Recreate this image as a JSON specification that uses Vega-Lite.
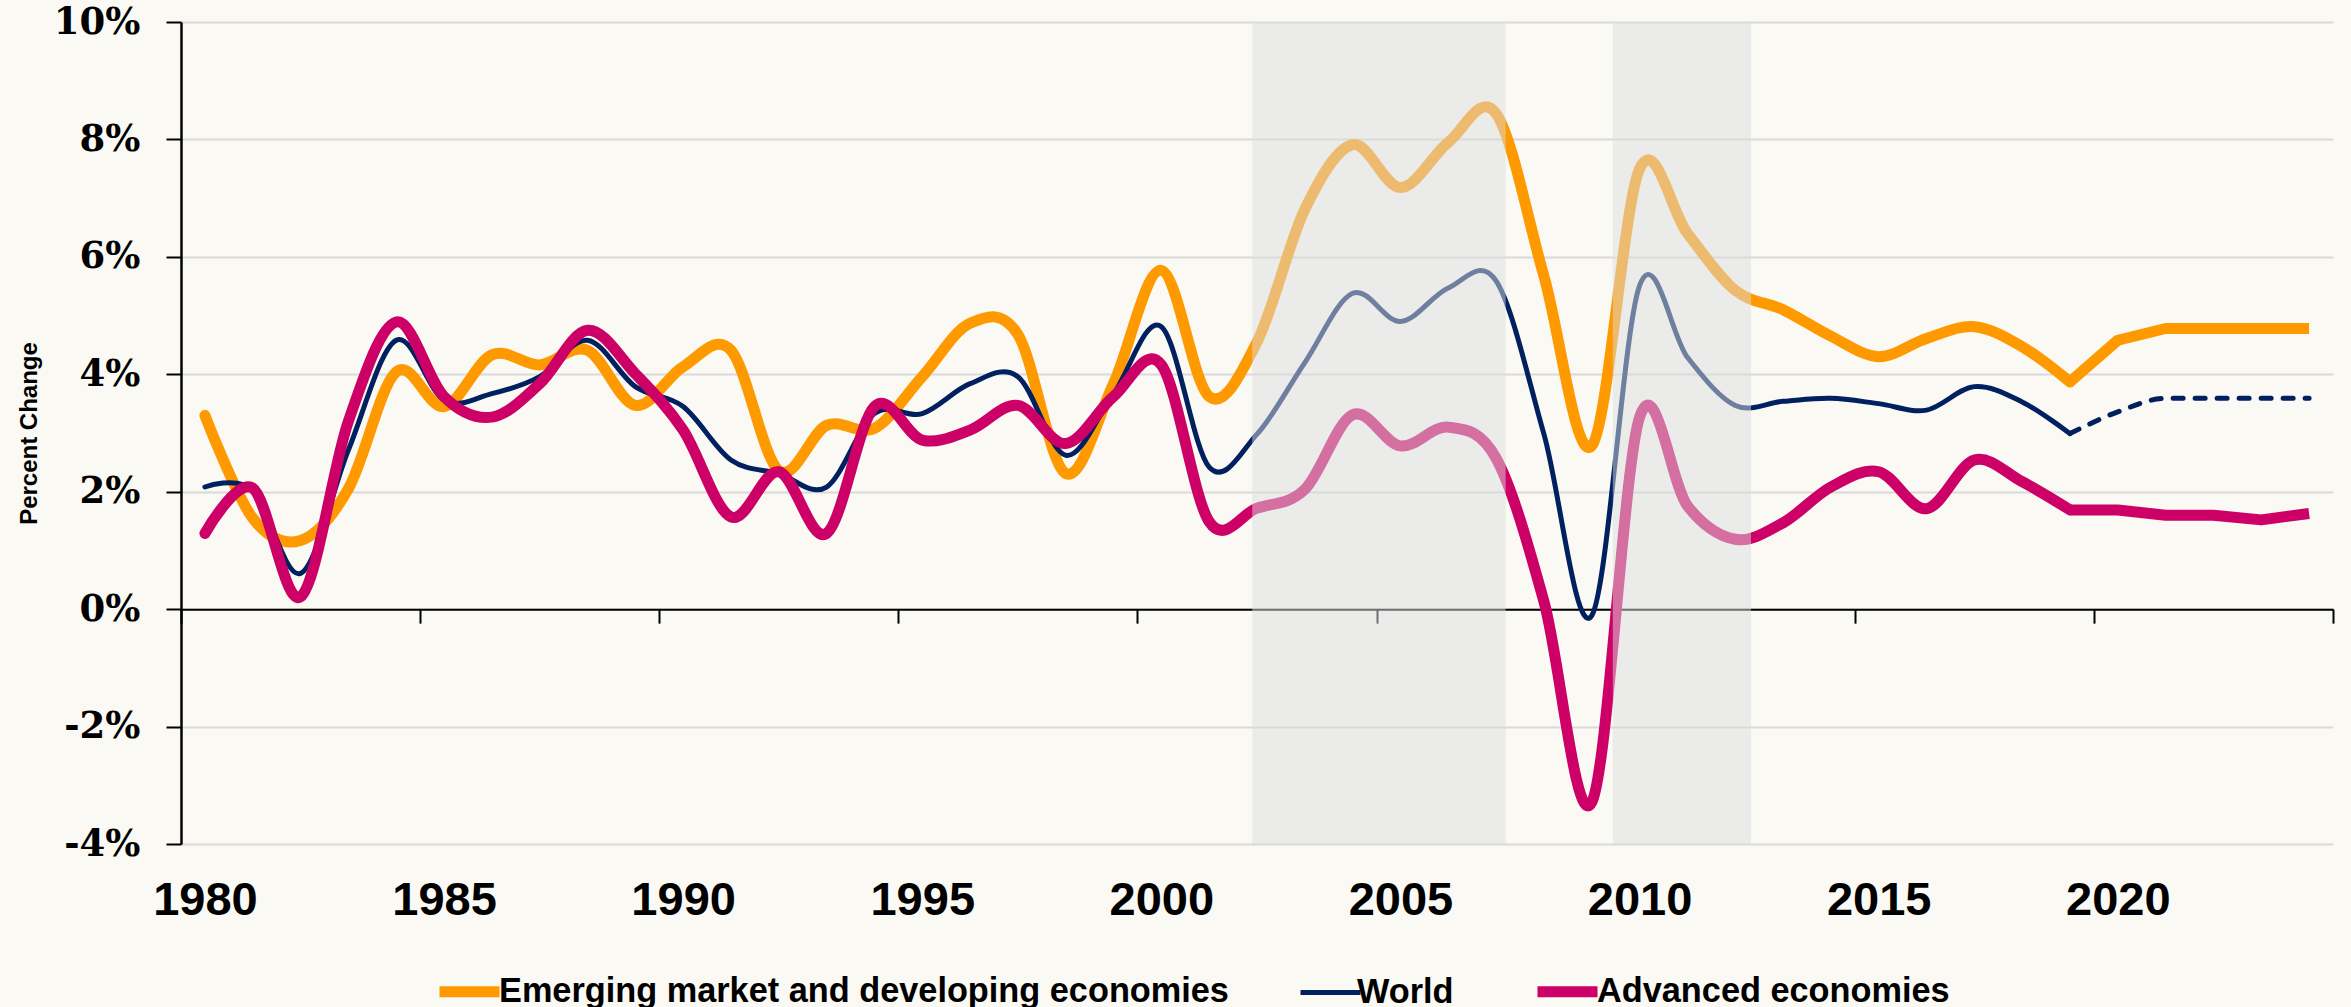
{
  "$schema": "https://vega.github.io/schema/vega-lite/v6.json",
  "width": 2152,
  "height": 822,
  "autosize": {"type": "none"},
  "padding": {"left": 181, "top": 22, "right": 18, "bottom": 163},
  "background": "#FAF9F4",
  "config": {"view": {"stroke": null}},
  "datasets": {
    "growth": [
      {"year": 1980, "Emerging market and developing economies": 3.30, "World": 2.08, "Advanced economies": 1.29},
      {"year": 1981, "Emerging market and developing economies": 1.55, "World": 2.03, "Advanced economies": 2.06},
      {"year": 1982, "Emerging market and developing economies": 1.17, "World": 0.61, "Advanced economies": 0.21},
      {"year": 1983, "Emerging market and developing economies": 2.05, "World": 2.71, "Advanced economies": 3.20},
      {"year": 1984, "Emerging market and developing economies": 4.04, "World": 4.58, "Advanced economies": 4.89},
      {"year": 1985, "Emerging market and developing economies": 3.45, "World": 3.56, "Advanced economies": 3.62},
      {"year": 1986, "Emerging market and developing economies": 4.33, "World": 3.67, "Advanced economies": 3.27},
      {"year": 1987, "Emerging market and developing economies": 4.16, "World": 3.96, "Advanced economies": 3.84},
      {"year": 1988, "Emerging market and developing economies": 4.41, "World": 4.58, "Advanced economies": 4.75},
      {"year": 1989, "Emerging market and developing economies": 3.47, "World": 3.79, "Advanced economies": 4.01},
      {"year": 1990, "Emerging market and developing economies": 4.13, "World": 3.45, "Advanced economies": 3.05},
      {"year": 1991, "Emerging market and developing economies": 4.41, "World": 2.54, "Advanced economies": 1.57},
      {"year": 1992, "Emerging market and developing economies": 2.36, "World": 2.31, "Advanced economies": 2.34},
      {"year": 1993, "Emerging market and developing economies": 3.13, "World": 2.08, "Advanced economies": 1.29},
      {"year": 1994, "Emerging market and developing economies": 3.08, "World": 3.33, "Advanced economies": 3.45},
      {"year": 1995, "Emerging market and developing economies": 3.96, "World": 3.33, "Advanced economies": 2.88},
      {"year": 1996, "Emerging market and developing economies": 4.87, "World": 3.84, "Advanced economies": 3.05},
      {"year": 1997, "Emerging market and developing economies": 4.68, "World": 3.96, "Advanced economies": 3.47},
      {"year": 1998, "Emerging market and developing economies": 2.31, "World": 2.62, "Advanced economies": 2.82},
      {"year": 1999, "Emerging market and developing economies": 3.84, "World": 3.67, "Advanced economies": 3.62},
      {"year": 2000, "Emerging market and developing economies": 5.77, "World": 4.81, "Advanced economies": 4.16},
      {"year": 2001, "Emerging market and developing economies": 3.62, "World": 2.42, "Advanced economies": 1.49},
      {"year": 2002, "Emerging market and developing economies": 4.55, "World": 2.98, "Advanced economies": 1.72},
      {"year": 2003, "Emerging market and developing economies": 6.81, "World": 4.20, "Advanced economies": 2.04},
      {"year": 2004, "Emerging market and developing economies": 7.91, "World": 5.38, "Advanced economies": 3.31},
      {"year": 2005, "Emerging market and developing economies": 7.18, "World": 4.90, "Advanced economies": 2.78},
      {"year": 2006, "Emerging market and developing economies": 7.95, "World": 5.47, "Advanced economies": 3.10},
      {"year": 2007, "Emerging market and developing economies": 8.44, "World": 5.59, "Advanced economies": 2.57},
      {"year": 2008, "Emerging market and developing economies": 5.67, "World": 2.98, "Advanced economies": 0.13},
      {"year": 2009, "Emerging market and developing economies": 2.78, "World": -0.11, "Advanced economies": -3.29},
      {"year": 2010, "Emerging market and developing economies": 7.50, "World": 5.51, "Advanced economies": 3.27},
      {"year": 2011, "Emerging market and developing economies": 6.40, "World": 4.29, "Advanced economies": 1.76},
      {"year": 2012, "Emerging market and developing economies": 5.43, "World": 3.47, "Advanced economies": 1.19},
      {"year": 2013, "Emerging market and developing economies": 5.10, "World": 3.54, "Advanced economies": 1.47},
      {"year": 2014, "Emerging market and developing economies": 4.65, "World": 3.59, "Advanced economies": 2.08},
      {"year": 2015, "Emerging market and developing economies": 4.30, "World": 3.50, "Advanced economies": 2.34},
      {"year": 2016, "Emerging market and developing economies": 4.61, "World": 3.39, "Advanced economies": 1.71},
      {"year": 2017, "Emerging market and developing economies": 4.81, "World": 3.79, "Advanced economies": 2.54},
      {"year": 2018, "Emerging market and developing economies": 4.47, "World": 3.53, "Advanced economies": 2.17},
      {"year": 2019, "Emerging market and developing economies": 3.87, "World": 2.99, "Advanced economies": 1.69},
      {"year": 2020, "Emerging market and developing economies": 4.58, "World": 3.36, "Advanced economies": 1.69},
      {"year": 2021, "Emerging market and developing economies": 4.78, "World": 3.59, "Advanced economies": 1.60},
      {"year": 2022, "Emerging market and developing economies": 4.78, "World": 3.59, "Advanced economies": 1.60},
      {"year": 2023, "Emerging market and developing economies": 4.78, "World": 3.59, "Advanced economies": 1.52},
      {"year": 2024, "Emerging market and developing economies": 4.78, "World": 3.59, "Advanced economies": 1.63}
    ],
    "shades": [
      {"start": 2001.9, "end": 2007.2},
      {"start": 2009.44, "end": 2012.33}
    ]
  },
  "layer": [
    {
      "data": {"name": "growth"},
      "transform": [
        {"fold": ["Emerging market and developing economies", "World", "Advanced economies"], "as": ["series", "value"]},
        {"filter": "datum.year <= 2019"}
      ],
      "mark": {"type": "line", "interpolate": "cardinal", "strokeCap": "round", "strokeJoin": "round"},
      "encoding": {
        "x": {
          "field": "year", "type": "quantitative",
          "scale": {"domain": [1979.5, 2024.5], "nice": false, "zero": false},
          "axis": {
            "orient": "bottom", "values": [1980, 1985, 1990, 1995, 2000, 2005, 2010, 2015, 2020],
            "format": "d", "domain": false, "ticks": false, "grid": false,
            "labelFont": "Liberation Sans", "labelFontWeight": "bold", "labelFontSize": 47,
            "labelColor": "#000000", "labelPadding": 33, "labelFlush": false, "labelOverlap": false, "title": null
          }
        },
        "y": {
          "field": "value", "type": "quantitative",
          "scale": {"domain": [-4, 10], "nice": false, "zero": false},
          "axis": {
            "values": [-4, -2, 0, 2, 4, 6, 8, 10], "labelExpr": "datum.value + '%'",
            "grid": true, "gridColor": "#D9D9D9", "gridWidth": 2,
            "domainColor": "#000000", "domainWidth": 2.5,
            "tickColor": "#000000", "tickWidth": 2, "tickSize": 15,
            "labelFont": "DejaVu Serif", "labelFontWeight": "bold", "labelFontSize": 37,
            "labelColor": "#000000", "labelPadding": 26,
            "title": "Percent Change", "titleFont": "Liberation Sans", "titleFontWeight": "bold",
            "titleFontSize": 24, "titleColor": "#000000", "titlePadding": 12
          }
        },
        "color": {
          "field": "series", "type": "nominal",
          "scale": {
            "domain": ["Emerging market and developing economies", "World", "Advanced economies"],
            "range": ["#FF9900", "#002060", "#CC0066"]
          },
          "legend": {
            "orient": "none", "legendX": 253, "legendY": 934, "direction": "horizontal",
            "title": null, "symbolType": "stroke", "symbolSize": 3600,
            "labelFont": "Liberation Sans", "labelFontWeight": "bold", "labelFontSize": 34.3,
            "labelColor": "#000000", "labelOffset": -6, "columnPadding": 61, "padding": 0,
            "labelLimit": 1000
          }
        },
        "strokeWidth": {
          "field": "series", "type": "nominal",
          "scale": {
            "type": "ordinal",
            "domain": ["Emerging market and developing economies", "World", "Advanced economies"],
            "range": [11, 5, 11]
          }
        }
      }
    },
    {
      "data": {"name": "growth"},
      "transform": [
        {"fold": ["Emerging market and developing economies", "Advanced economies"], "as": ["series", "value"]},
        {"filter": "datum.year >= 2019"}
      ],
      "mark": {"type": "line", "interpolate": "linear", "strokeCap": "butt", "strokeJoin": "round"},
      "encoding": {
        "x": {"field": "year", "type": "quantitative", "scale": {"domain": [1979.5, 2024.5], "nice": false, "zero": false}, "axis": null},
        "y": {"field": "value", "type": "quantitative"},
        "color": {"field": "series", "type": "nominal"},
        "strokeWidth": {
          "field": "series", "type": "nominal",
          "scale": {
            "type": "ordinal",
            "domain": ["Emerging market and developing economies", "World", "Advanced economies"],
            "range": [11, 5, 11]
          }
        }
      }
    },
    {
      "data": {"name": "growth"},
      "transform": [
        {"fold": ["World"], "as": ["series", "value"]},
        {"filter": "datum.year >= 2019"}
      ],
      "mark": {"type": "line", "interpolate": "monotone", "strokeCap": "round", "strokeDash": [10, 12]},
      "encoding": {
        "x": {"field": "year", "type": "quantitative", "scale": {"domain": [1979.5, 2024.5], "nice": false, "zero": false}, "axis": null},
        "y": {"field": "value", "type": "quantitative"},
        "color": {"field": "series", "type": "nominal"},
        "strokeWidth": {
          "field": "series", "type": "nominal",
          "scale": {
            "type": "ordinal",
            "domain": ["Emerging market and developing economies", "World", "Advanced economies"],
            "range": [11, 5, 11]
          }
        }
      }
    },
    {
      "data": {"name": "shades"},
      "mark": {"type": "rect", "color": "#DBDEDE", "opacity": 0.5},
      "encoding": {
        "x": {
          "field": "start", "type": "quantitative",
          "scale": {"domain": [1979.5, 2024.5], "nice": false, "zero": false},
          "axis": {
            "orient": "top", "offset": -587.14,
            "values": [1979.5, 1984.5, 1989.5, 1994.5, 1999.5, 2004.5, 2009.5, 2014.5, 2019.5, 2024.5],
            "labels": false, "grid": false, "title": null,
            "domainColor": "#000000", "domainWidth": 2,
            "tickColor": "#000000", "tickWidth": 2, "tickSize": -14
          }
        },
        "x2": {"field": "end"}
      }
    }
  ],
  "resolve": {"axis": {"x": "independent"}}
}
